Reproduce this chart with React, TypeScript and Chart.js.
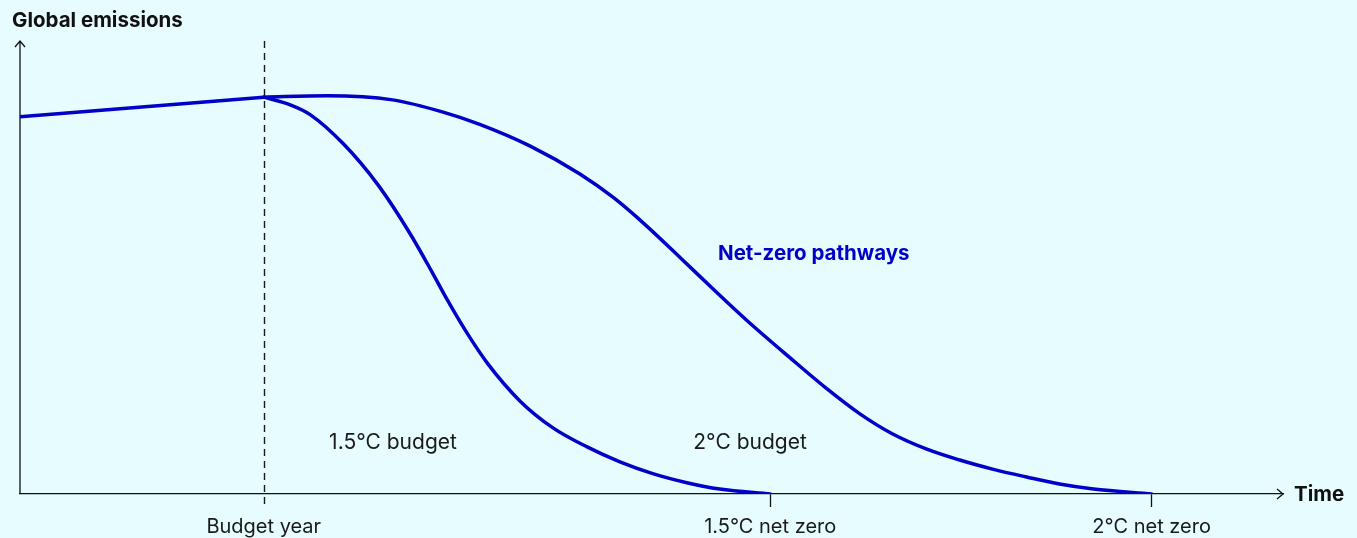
import React, { useEffect, useRef } from "react";
import { Chart, registerables } from "chart.js";

Chart.register(...registerables);

// Time axis (arbitrary units) and emissions index (0 = net zero)
const historyX = [0, 19.3];
const historyY = [83.3, 87.6];

const path2X = [19.3, 24.3, 29.5, 33.5, 36.4, 40.4, 44.3, 47.0, 49.6, 52.3, 54.9, 57.6, 61.0, 63.9, 66.5, 69.1, 71.8, 74.4, 77.0, 79.7, 82.3, 85.0, 89.6];
const path2Y = [87.6, 87.9, 87.0, 84.3, 81.6, 76.8, 70.7, 65.4, 59.2, 52.1, 45.2, 38.2, 30.0, 23.2, 17.7, 13.25, 9.9, 7.5, 5.5, 3.75, 2.2, 1.1, 0];

const path15X = [19.3, 21.4, 23.0, 25.6, 28.3, 30.9, 32.7, 33.8, 35.4, 37.0, 39.6, 42.2, 44.9, 47.5, 50.1, 52.8, 55.4, 59.4];
const path15Y = [87.6, 85.9, 83.7, 77.3, 68.4, 57.4, 48.6, 43.0, 35.5, 28.9, 20.5, 14.6, 10.4, 7.1, 4.5, 2.5, 1.1, 0];

const tickValues = [19.3, 59.4, 89.6];
const tickLabels = ["Budget year", "1.5°C net zero", "2°C net zero"];

const BLUE = "#0000c8";
const BG = "#e6fcfe";
const FONT = "Inter, 'Noto Sans', sans-serif";

const toPts = (xs: number[], ys: number[]) => xs.map((x, i) => ({ x, y: ys[i] }));

const decor = {
  id: "decor",
  beforeDatasetsDraw(chart: any) {
    const { ctx, chartArea, scales } = chart;
    const { left, right, top, bottom } = chartArea;
    ctx.save();
    // dashed budget-year line
    const bx = Math.round(scales.x.getPixelForValue(tickValues[0])) + 0.5;
    ctx.strokeStyle = "#1a1a1a";
    ctx.lineWidth = 1.4;
    ctx.setLineDash([7, 5]);
    ctx.beginPath();
    ctx.moveTo(bx, top);
    ctx.lineTo(bx, bottom + 13);
    ctx.stroke();
    ctx.setLineDash([]);
    // y axis with arrow
    ctx.strokeStyle = "#111";
    ctx.lineWidth = 1.3;
    ctx.beginPath();
    ctx.moveTo(left, bottom);
    ctx.lineTo(left, top);
    ctx.moveTo(left - 5, top + 6);
    ctx.lineTo(left, top);
    ctx.lineTo(left + 5, top + 6);
    ctx.stroke();
    // x axis arrow head
    ctx.beginPath();
    ctx.moveTo(right - 6, bottom - 5);
    ctx.lineTo(right, bottom);
    ctx.lineTo(right - 6, bottom + 5);
    ctx.stroke();
    ctx.restore();
  },
  afterDraw(chart: any) {
    const { ctx, chartArea } = chart;
    const { right, bottom } = chartArea;
    ctx.save();
    ctx.textBaseline = "middle";
    ctx.fillStyle = "#111";
    ctx.font = `bold 20.5px ${FONT}`;
    ctx.textAlign = "left";
    ctx.fillText("Global emissions", 12, 21);
    ctx.fillText("Time", right + 11, bottom + 1);
    ctx.font = `21px ${FONT}`;
    ctx.fillStyle = "#1a1a1a";
    ctx.textAlign = "center";
    ctx.fillText("1.5°C budget", 393, 443);
    ctx.fillText("2°C budget", 750, 443);
    ctx.fillStyle = BLUE;
    ctx.font = `bold 20.5px ${FONT}`;
    ctx.textAlign = "left";
    ctx.fillText("Net-zero pathways", 718, 254);
    ctx.restore();
  },
};

export default function App() {
  const ref = useRef<HTMLCanvasElement | null>(null);
  useEffect(() => {
    if (!ref.current) return;
    const lineStyle = {
      borderColor: BLUE,
      borderWidth: 3.5,
      pointRadius: 0,
      fill: false,
      cubicInterpolationMode: "monotone" as const,
      borderCapStyle: "round" as const,
    };
    const chart = new Chart(ref.current, {
      type: "line",
      data: {
        datasets: [
          { label: "History", data: toPts(historyX, historyY), ...lineStyle, tension: 0 },
          { label: "2°C pathway", data: toPts(path2X, path2Y), ...lineStyle },
          { label: "1.5°C pathway", data: toPts(path15X, path15Y), ...lineStyle },
        ],
      },
      options: {
        animation: false,
        responsive: false,
        maintainAspectRatio: false,
        layout: { padding: { left: 20, right: 74, top: 41, bottom: 0 } },
        plugins: { legend: { display: false }, tooltip: { enabled: false } },
        scales: {
          x: {
            type: "linear",
            min: 0,
            max: 100,
            afterBuildTicks: (scale: any) => {
              scale.ticks = tickValues.map((v) => ({ value: v }));
            },
            afterFit: (scale: any) => {
              scale.height = 44;
            },
            grid: {
              display: true,
              drawOnChartArea: false,
              drawTicks: true,
              tickLength: 13,
              tickWidth: 1.3,
              tickColor: (c: any) => (c.index === 0 ? "rgba(0,0,0,0)" : "#111"),
            },
            border: { display: true, color: "#111", width: 1.3 },
            ticks: {
              autoSkip: false,
              maxRotation: 0,
              padding: 8,
              color: "#1a1a1a",
              font: { family: FONT, size: 20, lineHeight: 1.2 },
              callback: (v: any) => {
                const i = tickValues.indexOf(Number(v));
                return i >= 0 ? tickLabels[i] : "";
              },
            },
          },
          y: {
            type: "linear",
            display: false,
            min: 0,
            max: 100,
          },
        },
      },
      plugins: [decor],
    });
    return () => chart.destroy();
  }, []);
  return (
    <div style={{ position: "fixed", left: 0, top: 0, width: 1357, height: 538, background: BG }}>
      <canvas ref={ref} width={1357} height={538} style={{ display: "block" }} />
    </div>
  );
}
